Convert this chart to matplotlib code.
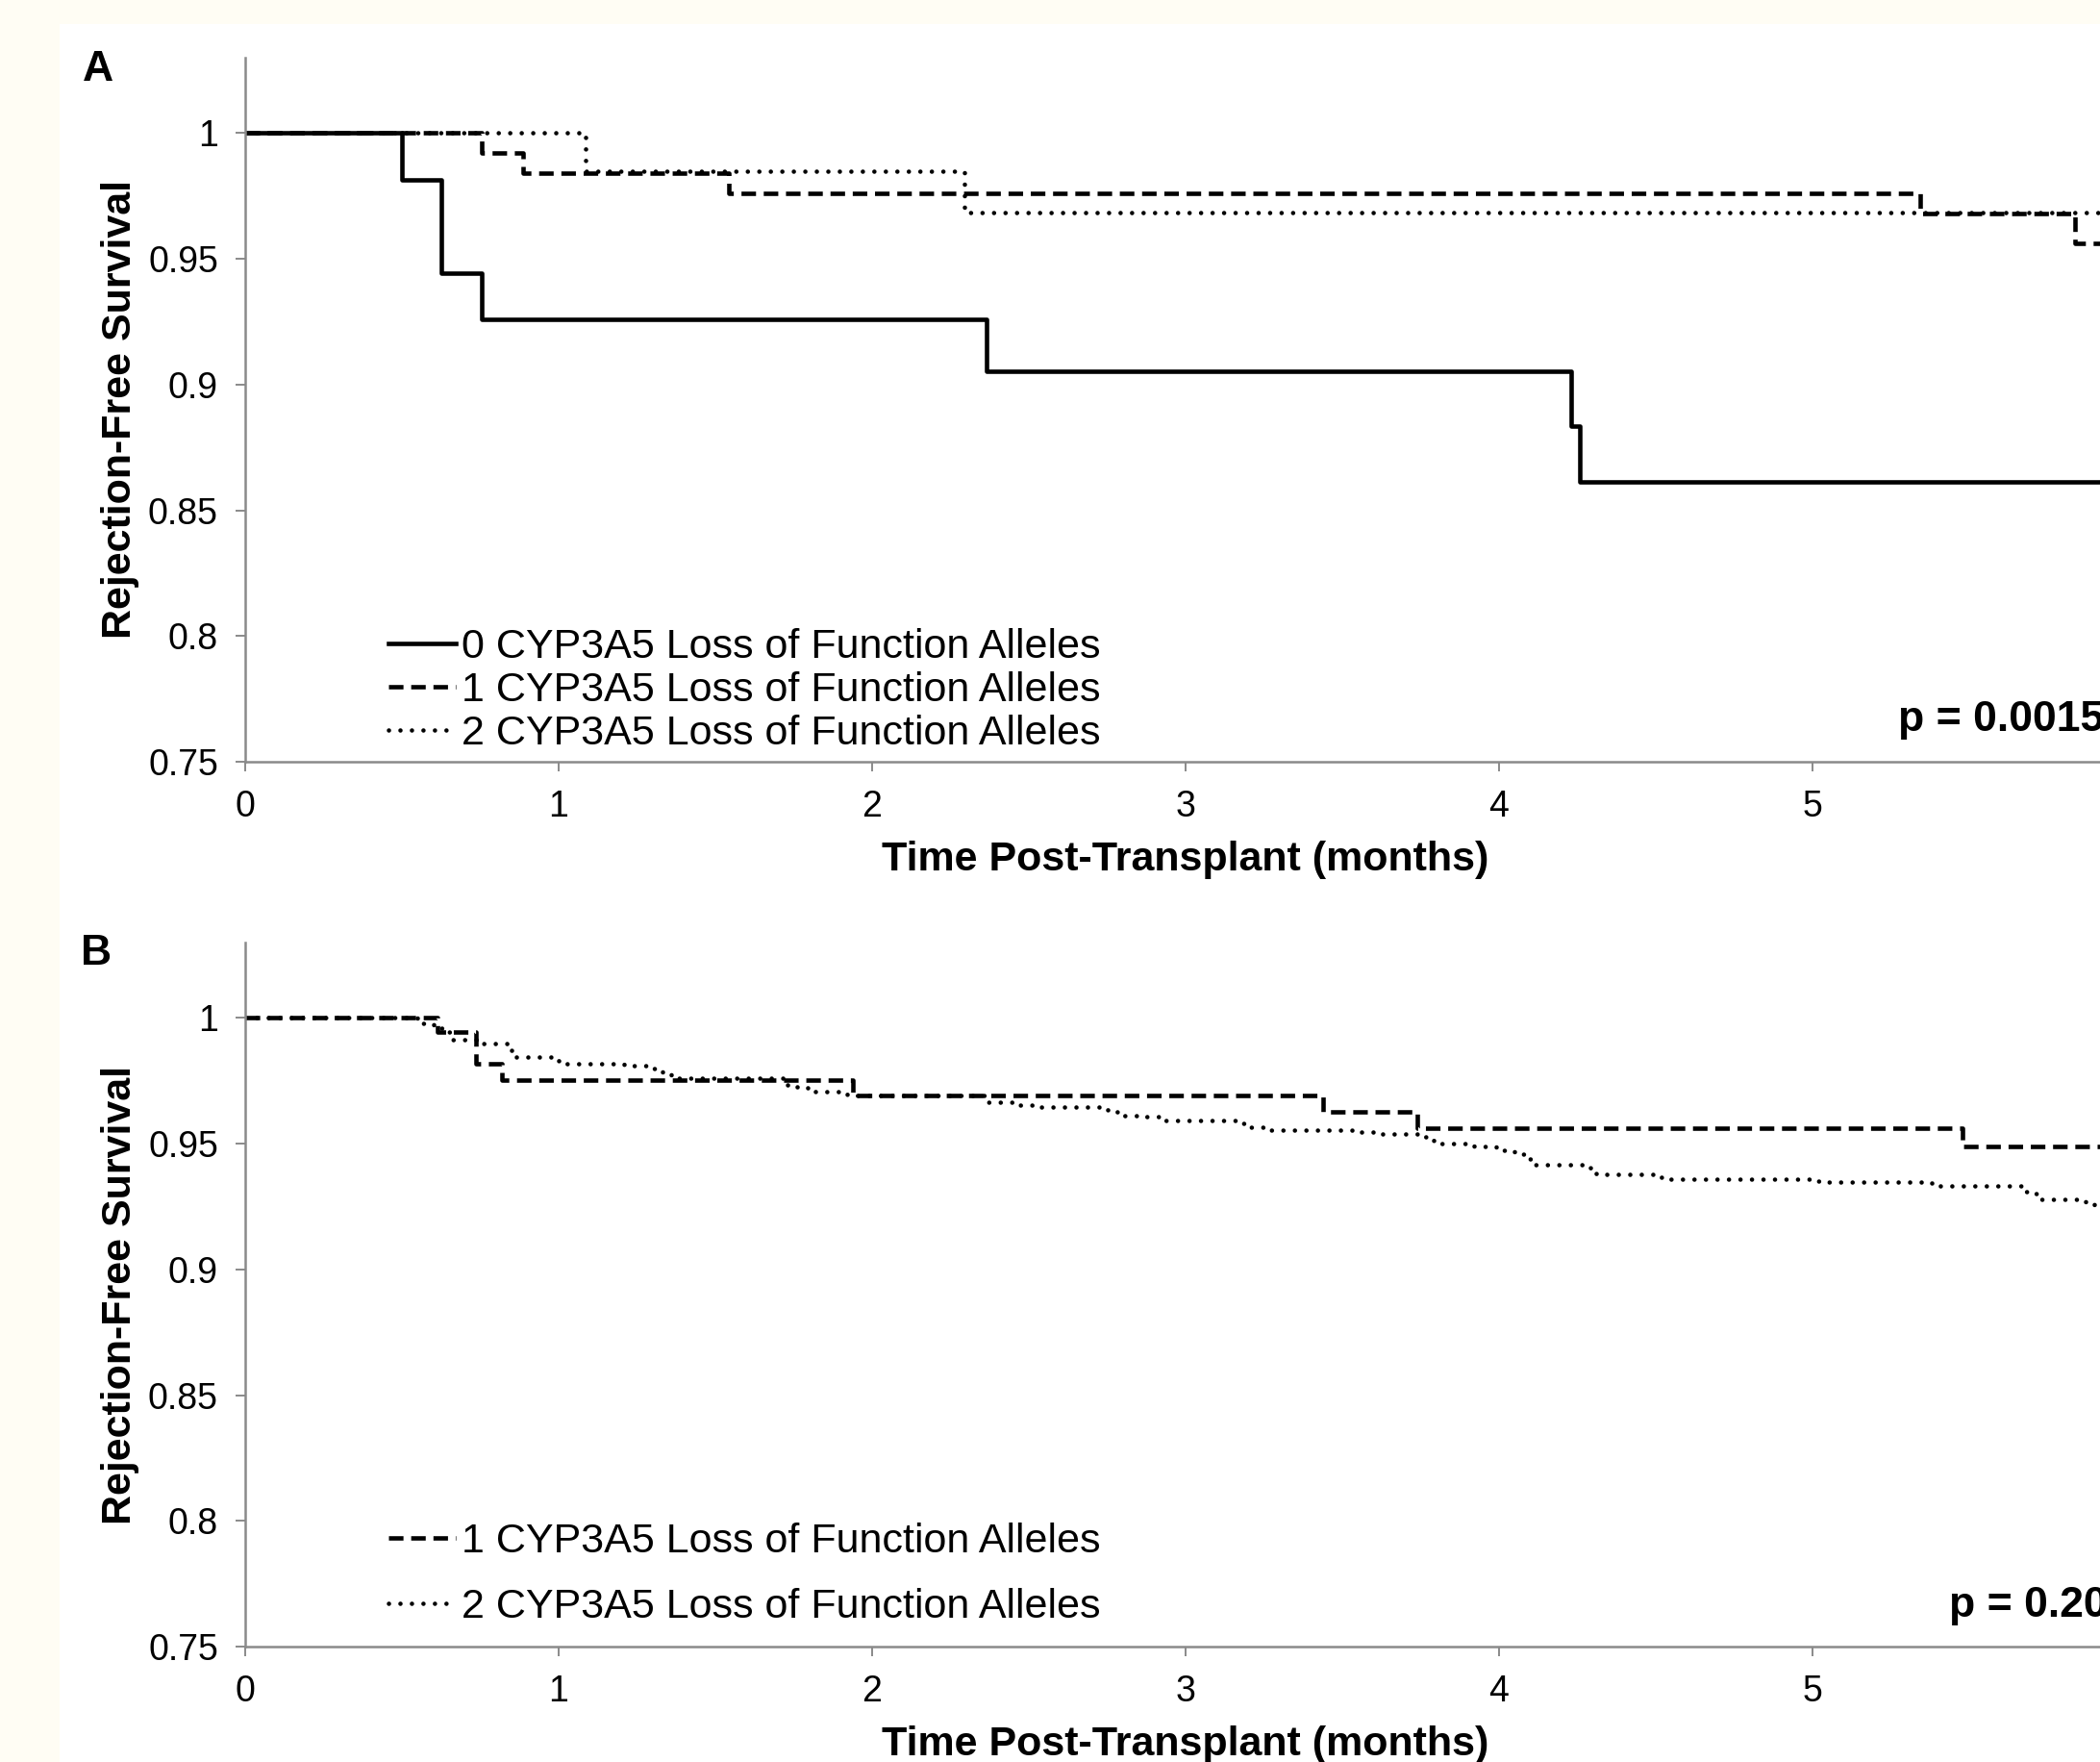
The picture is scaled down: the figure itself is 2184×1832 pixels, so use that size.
import matplotlib
matplotlib.use("Agg")
import matplotlib.pyplot as plt
from matplotlib.patches import Rectangle

plt.rcParams["font.family"] = ["Liberation Sans", "DejaVu Sans"]

# Panel A: rejection-free survival by number of CYP3A5 loss of function alleles
a0_t = [0, 0.50, 0.627, 0.756, 2.364, 4.231, 4.259, 6.0]
a0_s = [1.0, 0.9815, 0.9445, 0.926, 0.9054, 0.8835, 0.8614, 0.8614]
a1_t = [0, 0.756, 0.886, 1.542, 5.343, 5.836, 6.0]
a1_s = [1.0, 0.9923, 0.984, 0.976, 0.9681, 0.956, 0.956]
a2_t = [0, 1.086, 2.295, 6.0]
a2_s = [1.0, 0.9849, 0.9684, 0.9684]

# Panel B
b1_t = [0, 0.615, 0.735, 0.82, 1.94, 3.44, 3.74, 5.48, 6.0]
b1_s = [1.0, 0.9946, 0.9817, 0.9754, 0.969, 0.9625, 0.9562, 0.949, 0.949]
b2_t = [0, 0.55, 0.60, 0.63, 0.66, 0.74, 0.84, 0.85, 1.00, 1.21, 1.28, 1.33, 1.36,
        1.73, 1.76, 1.82, 1.92, 2.36, 2.46, 2.52, 2.75, 2.78, 2.80, 2.86, 2.92,
        3.17, 3.19, 3.25, 3.53, 3.60, 3.74, 3.79, 3.80, 3.92, 3.99, 4.05, 4.08,
        4.10, 4.29, 4.31, 4.51, 4.54, 4.99, 5.03, 5.38, 5.67, 5.70, 5.72, 5.87,
        5.90, 6.0]
b2_s = [1.0, 0.9977, 0.996, 0.9946, 0.9913, 0.990, 0.9875, 0.9843, 0.9817, 0.9809,
        0.980, 0.978, 0.976, 0.9735, 0.9724, 0.9706, 0.969, 0.9664, 0.9654, 0.9645,
        0.9635, 0.9625, 0.9613, 0.9606, 0.9594, 0.958, 0.9566, 0.9556, 0.9547,
        0.9537, 0.9528, 0.951, 0.950, 0.9488, 0.9472, 0.946, 0.944, 0.9418, 0.940,
        0.9378, 0.9368, 0.9358, 0.935, 0.9348, 0.9334, 0.931, 0.930, 0.9279,
        0.9265, 0.9252, 0.9252]

labels = ["0 CYP3A5 Loss of Function Alleles",
          "1 CYP3A5 Loss of Function Alleles",
          "2 CYP3A5 Loss of Function Alleles"]
yticks = [0.75, 0.8, 0.85, 0.9, 0.95, 1.0]
ytick_labels = ["0.75", "0.8", "0.85", "0.9", "0.95", "1"]
xticks = [0, 1, 2, 3, 4, 5]

lw = 3.3
styles = {
    0: dict(linestyle="-"),
    1: dict(linestyle=(0, (3.3, 1.75))),
    2: dict(linestyle=(0, (0.01, 2.6)), dash_capstyle="round"),
}
gray = "#8a8a8a"
fs = 31

fig = plt.figure(figsize=(21.84, 18.32), dpi=100, facecolor="#fffdf4")
fig.patches.append(Rectangle((62 / 2184, 0), 1, 1 - 25 / 1832, transform=fig.transFigure,
                             facecolor="white", edgecolor="none", zorder=-10))

axA = fig.add_axes([0.11676, 0.56769, 1.04487, 0.39956])
axB = fig.add_axes([0.11676, 0.0655, 1.04487, 0.39956])


def style_axes(ax):
    ax.set_facecolor("white")
    ax.set_xlim(0, 7)
    ax.set_ylim(0.75, 1.03)
    for s in ["top", "right"]:
        ax.spines[s].set_visible(False)
    for s in ["left", "bottom"]:
        ax.spines[s].set_color(gray)
        ax.spines[s].set_linewidth(1.8)
    ax.set_yticks(yticks)
    ax.set_yticklabels(ytick_labels)
    ax.set_xticks(xticks)
    ax.tick_params(axis="both", colors=gray, labelcolor="black", labelsize=27,
                   length=7.2, width=1.4, direction="out")
    ax.tick_params(axis="x", pad=14)
    ax.tick_params(axis="y", pad=13)
    ax.set_ylabel("Rejection-Free Survival", fontsize=fs, fontweight="bold")
    ax.yaxis.set_label_coords(-0.048, 0.5)
    ax.set_xlabel("Time Post-Transplant (months)", fontsize=fs, fontweight="bold")
    ax.xaxis.set_label_coords(0.4286, -0.1116)


style_axes(axA)
axA.step(a0_t, a0_s, where="post", color="black", lw=lw, label=labels[0], **styles[0])
axA.step(a1_t, a1_s, where="post", color="black", lw=lw, label=labels[1], **styles[1])
axA.step(a2_t, a2_s, where="post", color="black", lw=lw, label=labels[2], **styles[2])
axA.legend(loc="lower left", bbox_to_anchor=(0.0653, 0.012), frameon=False, fontsize=fs,
           handlelength=1.63, handletextpad=0.14, labelspacing=0.12,
           borderpad=0, borderaxespad=0)
axA.text(0.7533, 0.0437, "p = 0.0015", transform=axA.transAxes, fontsize=32,
         fontweight="bold", va="baseline", ha="left")

style_axes(axB)
axB.step(b1_t, b1_s, where="post", color="black", lw=lw, label=labels[1], **styles[1])
axB.step(b2_t, b2_s, where="post", color="black", lw=lw, label=labels[2], **styles[2])
axB.legend(loc="lower left", bbox_to_anchor=(0.0653, 0.029), frameon=False, fontsize=fs,
           handlelength=1.63, handletextpad=0.14, labelspacing=0.64,
           borderpad=0, borderaxespad=0)
axB.text(0.7765, 0.043, "p = 0.20", transform=axB.transAxes, fontsize=32,
         fontweight="bold", va="baseline", ha="left")

fig.text(86 / 2184, 1 - 84 / 1832, "A", fontsize=32, fontweight="bold", va="baseline")
fig.text(84 / 2184, 1 - 1003 / 1832, "B", fontsize=32, fontweight="bold", va="baseline")

fig.savefig("out.png", dpi=100, facecolor=fig.get_facecolor())
